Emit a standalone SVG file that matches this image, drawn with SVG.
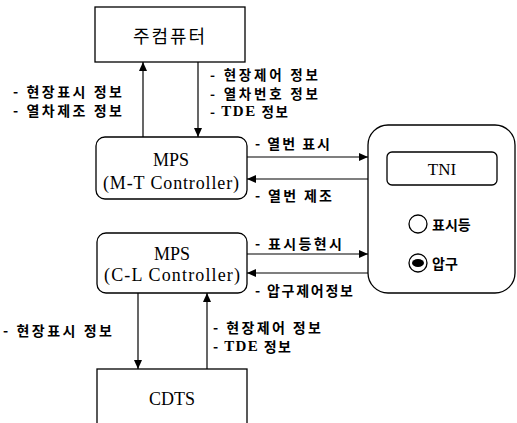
<svg xmlns="http://www.w3.org/2000/svg" width="517" height="423" viewBox="0 0 517 423">
<defs>
<marker id="ah" markerWidth="9" markerHeight="8" refX="9" refY="4" orient="auto" markerUnits="userSpaceOnUse">
<path d="M0,0 L9,4 L0,8 Z" fill="#000"/>
</marker>
<style>
.box{fill:#fff;stroke:#000;stroke-width:1.3}
.ln{stroke:#000;stroke-width:1.2;fill:none}
.ko{font-family:"Noto Sans CJK KR","Noto Sans",sans-serif;font-size:14px;font-weight:bold;fill:#000;dominant-baseline:central}
.sm{font-size:13.5px}
.en{font-family:"Liberation Serif","Times New Roman",serif;font-size:18px;fill:#000;text-anchor:middle;dominant-baseline:central}
.b{font-family:"Liberation Serif",serif;font-weight:bold;font-size:15px}
</style>
</defs>
<rect width="517" height="423" fill="#fff"/>

<g id="host">
<rect class="box" x="95" y="7" width="150" height="55"/>
<text class="ko" x="133" y="35" style="font-size:18px;font-weight:normal" textLength="72" lengthAdjust="spacing">주컴퓨터</text>
</g>

<g id="mps-mt">
<rect class="box" x="96" y="137" width="151" height="62" rx="9"/>
<text class="en" x="171" y="160">MPS</text>
<text class="en" x="171" y="183" textLength="136" lengthAdjust="spacing">(M-T Controller)</text>
</g>

<g id="mps-cl">
<rect class="box" x="97" y="233" width="150" height="60" rx="9"/>
<text class="en" x="172" y="254">MPS</text>
<text class="en" x="172" y="275" textLength="136" lengthAdjust="spacing">(C-L Controller)</text>
</g>

<g id="cdts">
<rect class="box" x="97" y="369" width="150" height="70"/>
<text class="en" x="172" y="399">CDTS</text>
</g>

<g id="tni">
<rect class="box" x="368" y="125" width="147" height="168" rx="20"/>
<rect class="box" x="387" y="152" width="110" height="33" rx="5"/>
<text class="en" x="442" y="169" style="font-size:17px">TNI</text>
<circle cx="418" cy="224" r="9" fill="#fff" stroke="#000" stroke-width="1.3"/>
<text class="ko" x="432" y="224">표시등</text>
<circle cx="418" cy="263" r="9" fill="#fff" stroke="#000" stroke-width="1.3"/>
<ellipse cx="418" cy="263" rx="6" ry="4" fill="#000"/>
<text class="ko" x="432" y="263">압구</text>
</g>

<g id="connectors">
<line class="ln" x1="143" y1="137" x2="143" y2="62" marker-end="url(#ah)"/>
<line class="ln" x1="198" y1="62" x2="198" y2="137" marker-end="url(#ah)"/>
<line class="ln" x1="247" y1="157" x2="368" y2="157" marker-end="url(#ah)"/>
<line class="ln" x1="368" y1="179" x2="247" y2="179" marker-end="url(#ah)"/>
<line class="ln" x1="247" y1="254" x2="368" y2="254" marker-end="url(#ah)"/>
<line class="ln" x1="368" y1="273" x2="247" y2="273" marker-end="url(#ah)"/>
<line class="ln" x1="138" y1="293" x2="138" y2="369" marker-end="url(#ah)"/>
<line class="ln" x1="207" y1="369" x2="207" y2="293" marker-end="url(#ah)"/>
</g>

<g id="labels">
<text class="ko" x="13" y="90.5" textLength="109" lengthAdjust="spacing">- 현장표시 정보</text>
<text class="ko" x="13" y="110" textLength="109" lengthAdjust="spacing">- 열차제조 정보</text>
<text class="ko sm" x="210" y="74" textLength="108" lengthAdjust="spacing">- 현장제어 정보</text>
<text class="ko sm" x="210" y="92.5" textLength="108" lengthAdjust="spacing">- 열차번호 정보</text>
<text class="ko sm" x="210" y="111" textLength="78" lengthAdjust="spacing">- <tspan class="b">TDE</tspan> 정보</text>
<text class="ko" x="255" y="143" textLength="75" lengthAdjust="spacing">- 열번 표시</text>
<text class="ko" x="255" y="195" textLength="77" lengthAdjust="spacing">- 열번 제조</text>
<text class="ko" x="255" y="243" textLength="87" lengthAdjust="spacing">- 표시등현시</text>
<text class="ko" x="255" y="290" textLength="98" lengthAdjust="spacing">- 압구제어정보</text>
<text class="ko" x="3" y="330" textLength="109" lengthAdjust="spacing">- 현장표시 정보</text>
<text class="ko" x="213" y="327" textLength="108" lengthAdjust="spacing">- 현장제어 정보</text>
<text class="ko" x="213" y="346" textLength="78" lengthAdjust="spacing">- <tspan class="b">TDE</tspan> 정보</text>
</g>
</svg>
